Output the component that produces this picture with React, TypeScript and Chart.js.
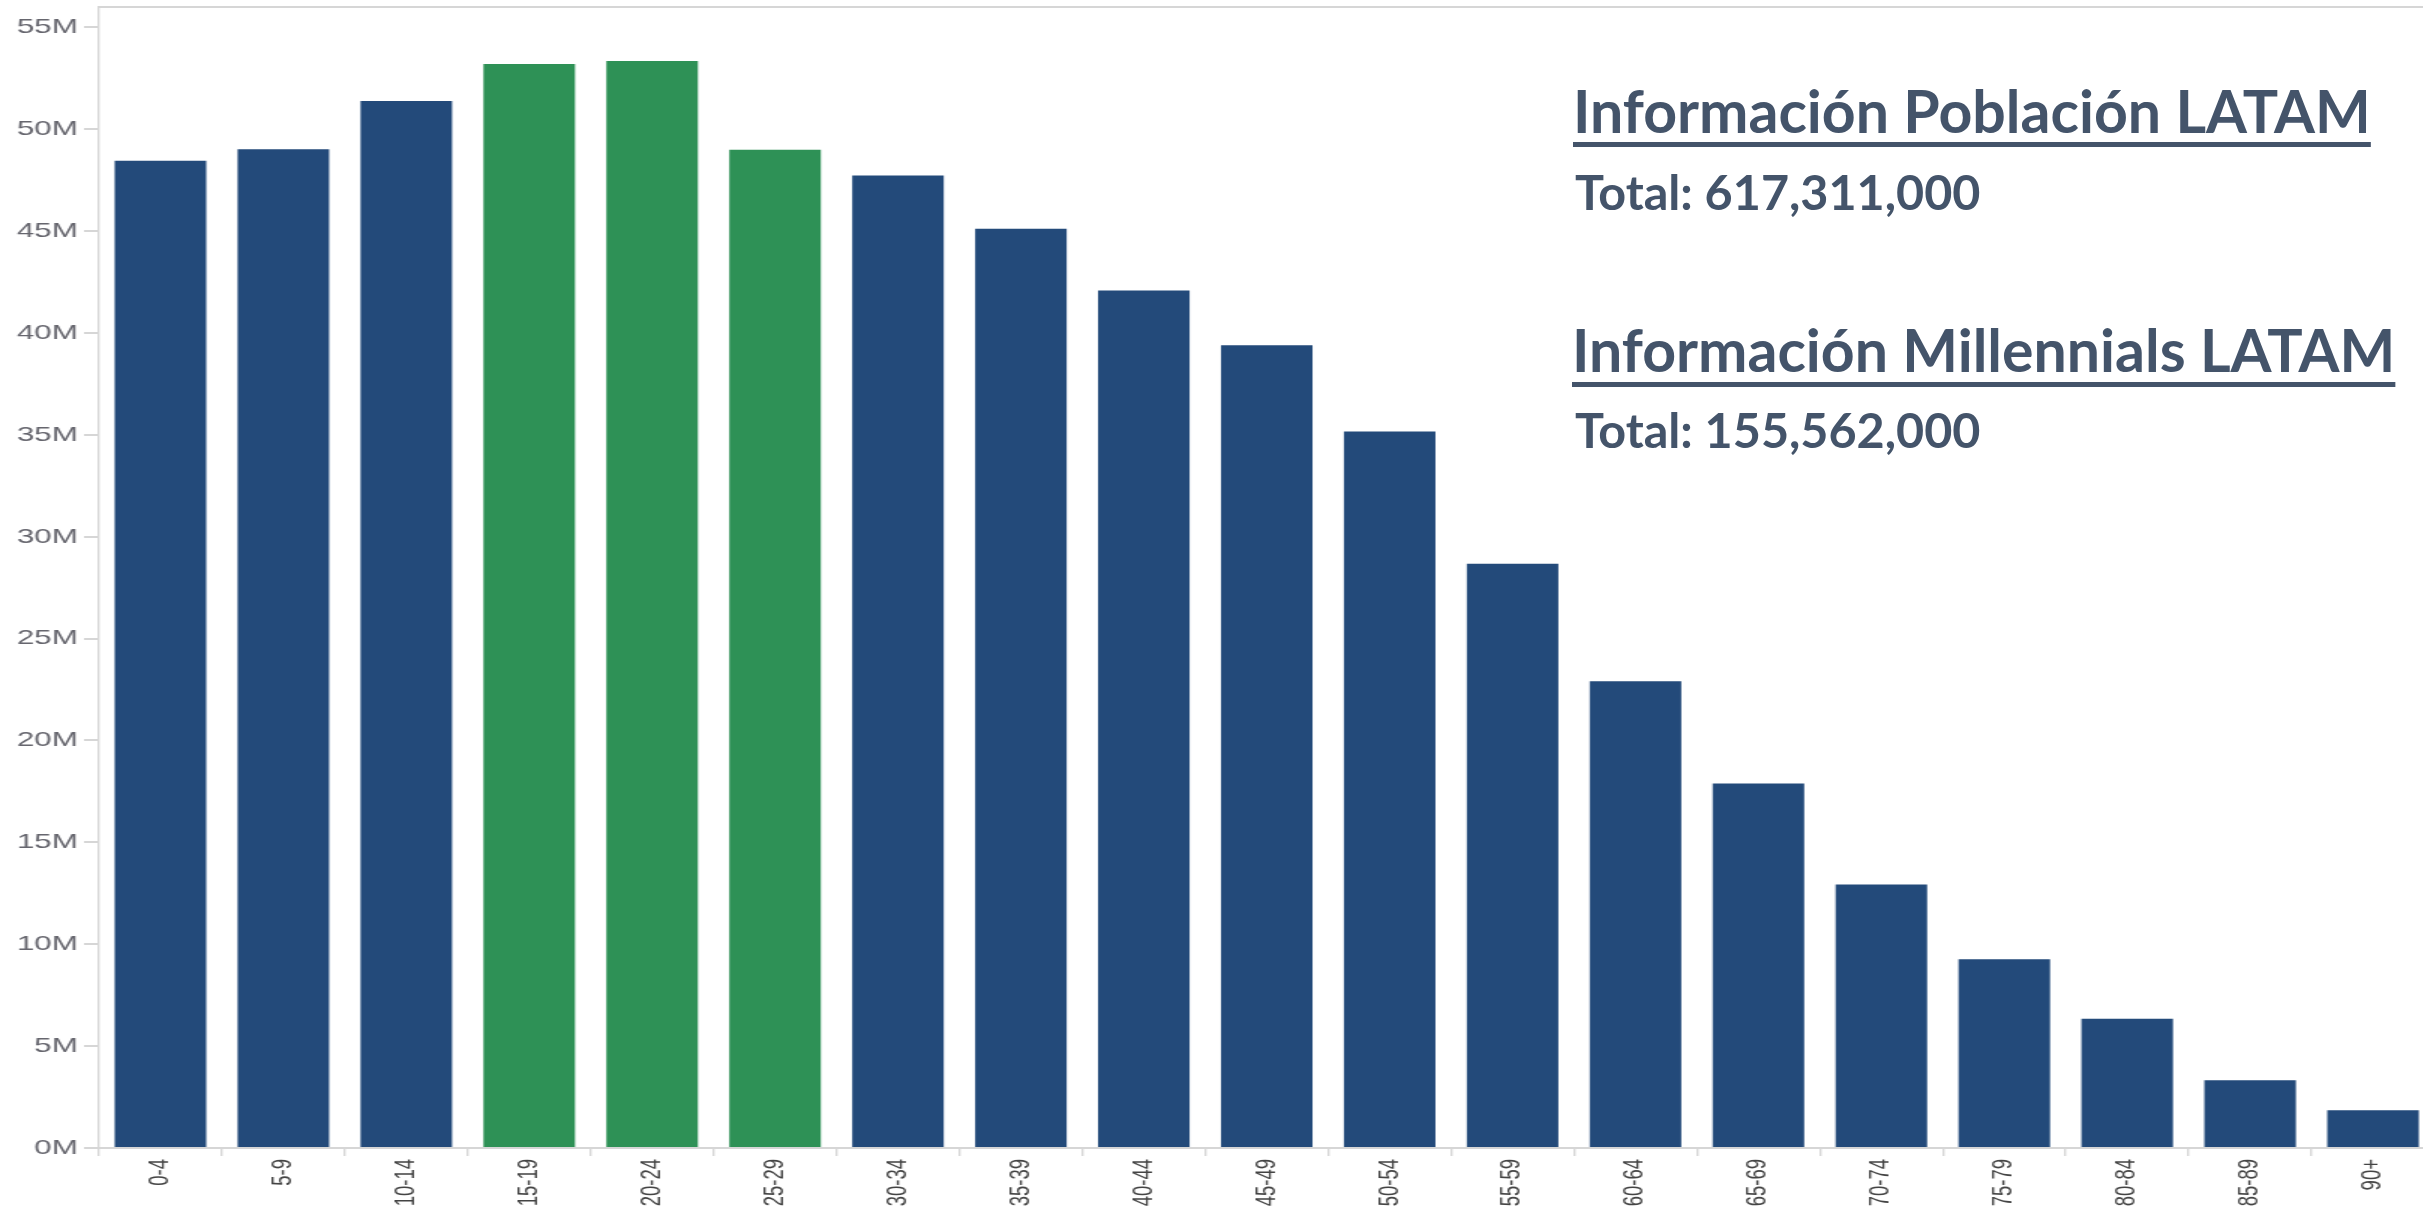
import React, { useEffect, useRef } from 'react';
import { Chart, registerables } from 'chart.js';

Chart.register(...registerables);

// Age groups (x categories)
const categories = [
  '0-4', '5-9', '10-14', '15-19', '20-24', '25-29', '30-34', '35-39', '40-44', '45-49',
  '50-54', '55-59', '60-64', '65-69', '70-74', '75-79', '80-84', '85-89', '90+',
];

// Population per age group, in millions
const populationMillions = [
  48.45, 49.02, 51.39, 53.2, 53.35, 49.0, 47.73, 45.12, 42.09, 39.4,
  35.17, 28.68, 22.91, 17.89, 12.93, 9.26, 6.34, 3.32, 1.85,
];

// Millennial age groups (highlighted in green)
const millennialGroups = ['15-19', '20-24', '25-29'];

// Y axis range and tick values (millions)
const yMaxMillions = 56;
const yTickValuesMillions = [0, 5, 10, 15, 20, 25, 30, 35, 40, 45, 50, 55];

// Annotation texts
const title1 = 'Información Población LATAM';
const total1 = 'Total: 617,311,000';
const title2 = 'Información Millennials LATAM';
const total2 = 'Total: 155,562,000';

const BLUE = '#234a7a';
const GREEN = '#2e9156';
const AXIS_GRAY = '#d6d6d6';
const TEXT_COLOR = '#44546a';

// The original chart is horizontally stretched; render narrower and stretch.
const STRETCH = 1.5;
const INNER_W = 1623;
const INNER_H = 1210;

const topFrame = {
  id: 'topFrame',
  afterDraw(chart: any) {
    const { ctx, chartArea } = chart;
    ctx.save();
    ctx.strokeStyle = AXIS_GRAY;
    ctx.lineWidth = 2;
    ctx.beginPath();
    ctx.moveTo(chartArea.left, chartArea.top);
    ctx.lineTo(chartArea.right, chartArea.top);
    ctx.stroke();
    ctx.restore();
  },
};

export default function App() {
  const canvasRef = useRef<HTMLCanvasElement | null>(null);

  useEffect(() => {
    if (!canvasRef.current) return;
    const values = populationMillions.map((v) => v * 1e6);
    const colors = categories.map((c) => (millennialGroups.includes(c) ? GREEN : BLUE));
    const chart = new Chart(canvasRef.current, {
      type: 'bar',
      data: {
        labels: categories,
        datasets: [
          {
            data: values,
            backgroundColor: colors,
            borderWidth: 0,
            categoryPercentage: 1,
            barPercentage: 0.745,
          },
        ],
      },
      plugins: [topFrame],
      options: {
        responsive: false,
        animation: false,
        devicePixelRatio: 1,
        layout: { padding: { top: 7, left: 0, right: 0, bottom: 0 } },
        plugins: {
          legend: { display: false },
          tooltip: { enabled: false },
          title: { display: false },
        },
        scales: {
          x: {
            afterFit: (s: any) => {
              s.height = 62;
              s.paddingLeft = 0;
              s.paddingRight = 0;
            },
            grid: {
              offset: true,
              drawOnChartArea: false,
              drawTicks: true,
              tickLength: 8,
              color: AXIS_GRAY,
              lineWidth: 1.4,
            },
            border: { display: true, color: AXIS_GRAY, width: 2 },
            ticks: {
              autoSkip: false,
              minRotation: 90,
              maxRotation: 90,
              padding: 3,
              color: '#444444',
              font: { family: "'Liberation Sans', Arial, sans-serif", size: 18.5 },
            },
          },
          y: {
            min: 0,
            max: yMaxMillions * 1e6,
            afterFit: (s: any) => {
              s.width = 66;
              s.paddingTop = 0;
              s.paddingBottom = 0;
            },
            afterBuildTicks: (s: any) => {
              s.ticks = yTickValuesMillions.map((v) => ({ value: v * 1e6 }));
            },
            grid: {
              drawOnChartArea: false,
              drawTicks: true,
              tickLength: 10,
              color: AXIS_GRAY,
              lineWidth: 2,
            },
            border: { display: true, color: AXIS_GRAY, width: 1.4 },
            ticks: {
              padding: 4,
              color: '#66666e',
              font: { family: "'Liberation Sans', Arial, sans-serif", size: 21 },
              callback: (v: any) => `${Math.round(Number(v) / 1e6)}M`,
            },
          },
        },
      },
    });
    return () => chart.destroy();
  }, []);

  const textBase: React.CSSProperties = {
    position: 'absolute',
    fontFamily: "Lato, 'Open Sans', sans-serif",
    fontWeight: 700,
    color: TEXT_COLOR,
    lineHeight: 1.2,
    whiteSpace: 'nowrap',
    margin: 0,
  };

  return (
    <div
      style={{
        position: 'fixed',
        left: 0,
        top: 0,
        width: 2423,
        height: 1210,
        overflow: 'hidden',
        background: '#ffffff',
      }}
    >
      <div
        style={{
          position: 'absolute',
          left: 0,
          top: 0,
          width: INNER_W,
          height: INNER_H,
          transform: `scaleX(${STRETCH})`,
          transformOrigin: '0 0',
        }}
      >
        <canvas ref={canvasRef} width={INNER_W} height={INNER_H} style={{ display: 'block', width: INNER_W, height: INNER_H }} />
      </div>
      <div
        style={{
          ...textBase,
          left: 1573,
          top: 76,
          fontSize: 59,
          textDecoration: 'underline',
          textDecorationThickness: '5px',
          textUnderlineOffset: '9px',
        }}
      >
        {title1}
      </div>
      <div style={{ ...textBase, left: 1575, top: 162, fontSize: 48.5 }}>{total1}</div>
      <div
        style={{
          ...textBase,
          left: 1572,
          top: 315,
          fontSize: 59,
          textDecoration: 'underline',
          textDecorationThickness: '4.5px',
          textUnderlineOffset: '10px',
        }}
      >
        {title2}
      </div>
      <div style={{ ...textBase, left: 1575, top: 400, fontSize: 48.5 }}>{total2}</div>
    </div>
  );
}
